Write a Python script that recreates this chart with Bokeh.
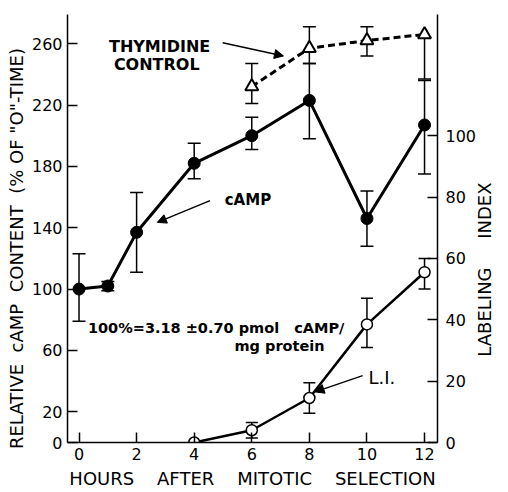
import math
from bokeh.plotting import figure
from bokeh.models import (Range1d, LinearAxis, FixedTicker, Whisker, TeeHead,
                          ColumnDataSource, Label, Arrow, NormalHead)
from bokeh.embed import file_html
from bokeh.resources import INLINE

# ---- data ----
camp_hours = [0, 1, 2, 4, 6, 8, 10, 12]
camp_vals = [100, 102, 137, 182, 200, 223, 146, 207]
camp_upper = [123, 105, 163, 195, 212, 247, 164, 236]
camp_lower = [79, 99, 111, 172, 191, 198, 128, 175]

thy_hours = [6, 8, 10, 12]
thy_vals = [232, 257, 262, 266]
thy_upper = [247, 271, 271, float("nan")]
thy_lower = [221, 247, 252, 237]

li_hours = [4, 6, 8, 10, 12]
li_vals = [0, 4, 14.5, 38.5, 55.5]
li_upper = [float("nan"), 6.5, 19.5, 47, 60]
li_lower = [float("nan"), 1.5, 9.5, 31, 50]

x_ticks = [0, 2, 4, 6, 8, 10, 12]
left_ticks = [0, 20, 60, 100, 140, 180, 220, 260]
right_ticks = [0, 20, 40, 60, 80, 100]

NB = "\u00a0"
x_title = "HOURS " + NB * 3 + "AFTER " + NB * 3 + "MITOTIC " + NB * 3 + "SELECTION"
left_title = "RELATIVE " + NB + "cAMP " + NB + "CONTENT " + NB + "(% OF \"O\"-TIME)" + NB * 7
right_title = NB * 15 + "LABELING " + NB * 4 + "INDEX"

FONT = "DejaVu Sans"

p = figure(width=508, height=492, x_range=Range1d(-0.4, 12.45), y_range=Range1d(0, 279),
           output_backend="svg", toolbar_location=None,
           min_border_left=67, min_border_right=65, min_border_top=14, min_border_bottom=50)
p.extra_y_ranges = {"li": Range1d(0, 139.5)}
p.outline_line_color = None
p.xgrid.visible = False
p.ygrid.visible = False
p.background_fill_color = "white"
p.border_fill_color = "white"

right_axis = LinearAxis(y_range_name="li")
p.add_layout(right_axis, "right")

p.xaxis.ticker = FixedTicker(ticks=x_ticks)
p.yaxis[0].ticker = FixedTicker(ticks=left_ticks)
right_axis.ticker = FixedTicker(ticks=right_ticks)

p.xaxis[0].axis_label = x_title
p.yaxis[0].axis_label = left_title
right_axis.axis_label = right_title

for ax in [p.xaxis[0], p.yaxis[0], right_axis]:
    ax.axis_line_color = "black"
    ax.axis_line_width = 1.5
    ax.major_tick_line_color = "black"
    ax.major_tick_line_width = 1.5
    ax.major_tick_in = 10
    ax.major_tick_out = 0
    ax.minor_tick_line_color = None
    ax.major_label_text_font = FONT
    ax.major_label_text_font_size = "16px"
    ax.major_label_text_color = "black"
    ax.axis_label_text_font = FONT
    ax.axis_label_text_font_style = "normal"
    ax.axis_label_text_color = "black"

p.xaxis[0].axis_label_text_font_size = "18px"
p.yaxis[0].axis_label_text_font_size = "18px"
right_axis.axis_label_text_font_size = "18px"

p.xaxis[0].major_label_standoff = 5
p.xaxis[0].axis_label_standoff = 5
p.yaxis[0].major_label_standoff = 5
p.yaxis[0].axis_label_standoff = 2
right_axis.major_label_standoff = 8
right_axis.axis_label_standoff = 5
try:
    right_axis.axis_label_orientation = math.pi / 2
except Exception:
    pass
try:
    right_axis.axis_label_align = "start"
except Exception:
    pass

# ---- cAMP ----
camp_src = ColumnDataSource(dict(x=camp_hours, y=camp_vals, up=camp_upper, lo=camp_lower))
p.add_layout(Whisker(source=camp_src, base="x", upper="up", lower="lo", line_width=1.5,
                     upper_head=TeeHead(size=13, line_width=1.5),
                     lower_head=TeeHead(size=13, line_width=1.5)))
p.line("x", "y", source=camp_src, line_width=3, line_color="black")
p.scatter("x", "y", source=camp_src, size=12, marker="circle", fill_color="black", line_color="black")

# ---- thymidine control ----
thy_src = ColumnDataSource(dict(x=thy_hours, y=thy_vals, lo=thy_lower))
p.add_layout(Whisker(source=thy_src, base="x", upper="y", lower="lo", line_width=1.5,
                     upper_head=None, lower_head=TeeHead(size=13, line_width=1.5)))
thy_up_idx = [i for i, v in enumerate(thy_upper) if v == v]
thy_up_src = ColumnDataSource(dict(x=[thy_hours[i] for i in thy_up_idx],
                                   y=[thy_vals[i] for i in thy_up_idx],
                                   up=[thy_upper[i] for i in thy_up_idx]))
p.add_layout(Whisker(source=thy_up_src, base="x", upper="up", lower="y", line_width=1.5,
                     lower_head=None, upper_head=TeeHead(size=13, line_width=1.5)))
p.line("x", "y", source=thy_src, line_width=3, line_color="black", line_dash="7 4")
p.scatter("x", "y", source=thy_src, size=13, marker="triangle", fill_color="white",
          line_color="black", line_width=2)

# ---- labeling index ----
li_idx = [i for i, v in enumerate(li_upper) if v == v]
li_err_src = ColumnDataSource(dict(x=[li_hours[i] for i in li_idx],
                                   up=[li_upper[i] for i in li_idx],
                                   lo=[li_lower[i] for i in li_idx]))
p.add_layout(Whisker(source=li_err_src, base="x", upper="up", lower="lo", line_width=1.5,
                     y_range_name="li",
                     upper_head=TeeHead(size=12, line_width=1.5),
                     lower_head=TeeHead(size=12, line_width=1.5)))
li_src = ColumnDataSource(dict(x=li_hours, y=li_vals))
p.line("x", "y", source=li_src, line_width=2.5, line_color="black", y_range_name="li")
p.scatter("x", "y", source=li_src, size=11, marker="circle", fill_color="white",
          line_color="black", line_width=1.5, y_range_name="li")

# ---- annotations ----
def lab(x, y, text, size="15px", style="bold", align="left"):
    p.add_layout(Label(x=x, y=y, text=text, text_font=FONT, text_font_size=size,
                       text_font_style=style, text_align=align, text_baseline="middle",
                       text_color="black"))

lab(2.8, 258, "THYMIDINE", size="16px", align="center")
lab(2.7, 246.3, "CONTROL", size="16px", align="center")
lab(5.06, 158.3, "cAMP")
lab(0.31, 74.9, "100%=3.18 \u00b10.70 pmol \u00a0\u00a0cAMP/", size="14.5px")
lab(5.40, 63.2, "mg protein", size="14.5px")
lab(10.05, 42.3, "L.I.", size="18px", style="normal")

for (xs, ys, xe, ye) in [(4.99, 260.6, 7.1, 252.0), (4.55, 157.7, 2.72, 143.5),
                         (9.85, 43.6, 8.2, 33.0)]:
    p.add_layout(Arrow(x_start=xs, y_start=ys, x_end=xe, y_end=ye, line_width=1.5,
                       end=NormalHead(size=9, fill_color="black", line_color="black")))

open("out.html", "w").write(file_html(p, INLINE))
